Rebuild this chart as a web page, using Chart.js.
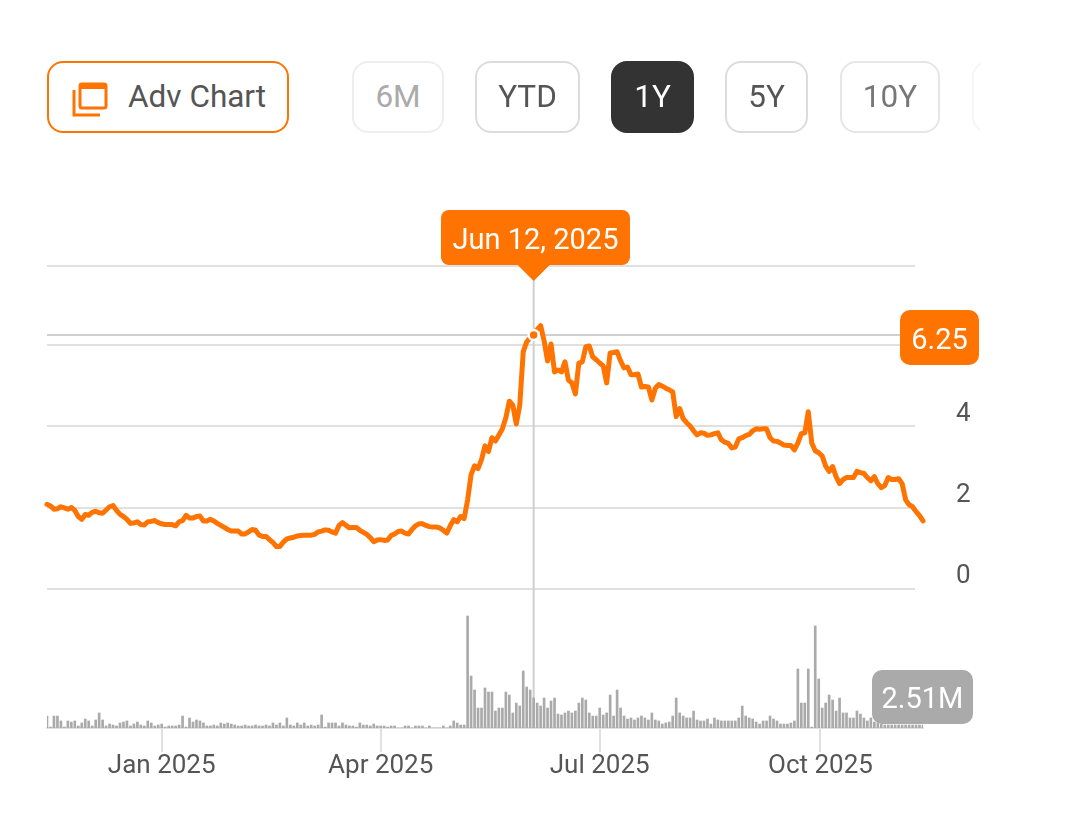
<!DOCTYPE html>
<html>
<head>
<meta charset="utf-8">
<title>Price chart</title>
<script src="https://cdn.jsdelivr.net/npm/chart.js@4/dist/chart.umd.min.js"></script>
<style>
html, body { margin: 0; padding: 0; background: #fff; }
body { width: 1080px; height: 815px; position: relative; overflow: hidden; font-family: Roboto, sans-serif; }
canvas { position: absolute; left: 0; top: 0; }
.btn { position: absolute; top: 61px; height: 72px; box-sizing: border-box; border: 2px solid #dcdcdc; border-radius: 16px;
       font-size: 31.5px; line-height: 68px; text-align: center; color: #555; background: #fff; }
.adv { left: 47px; width: 242px; border-color: #ff7300; text-align: left; padding-left: 79px; }
.adv svg { position: absolute; left: 21px; top: 18px; }
.on { background: #333; border-color: #333; color: #fff; }
.clip { position: absolute; left: 972px; top: 61px; width: 9px; height: 72px; overflow: hidden; opacity: .25; }
.clip div { width: 60px; height: 72px; box-sizing: border-box; border: 2px solid #dcdcdc; border-radius: 16px; }
</style>
</head>
<body>
<canvas id="chart" width="1080" height="815"></canvas>
<div class="btn adv">
  <svg width="38" height="38" viewBox="0 0 38 38" fill="none" stroke="#ff7300">
    <rect x="10" y="3" width="26" height="24" rx="2" stroke-width="3"/>
    <rect x="9" y="2" width="28" height="6" rx="2" fill="#ff7300" stroke="none"/>
    <path d="M4 9 V34 H30" stroke-width="3"/>
  </svg>
  Adv Chart
</div>
<div class="btn" style="left:352px;width:92px;color:#aaa;border-color:#eee">6M</div>
<div class="btn" style="left:475px;width:105px">YTD</div>
<div class="btn on" style="left:611px;width:83px">1Y</div>
<div class="btn" style="left:725px;width:83px">5Y</div>
<div class="btn" style="left:840px;width:100px;color:#777;border-color:#e6e6e6">10Y</div>
<div class="clip"><div></div></div>

<script>
// closing price per trading day
const PRICES = [
    2.08, 2.04, 1.96, 1.97, 2.02, 1.99, 1.96, 2.00, 1.93, 1.78,
    1.71, 1.83, 1.81, 1.88, 1.91, 1.87, 1.86, 1.94, 2.02, 2.05,
    1.93, 1.83, 1.78, 1.71, 1.61, 1.62, 1.65, 1.58, 1.57, 1.65,
    1.66, 1.68, 1.63, 1.60, 1.58, 1.58, 1.58, 1.55, 1.65, 1.68,
    1.81, 1.74, 1.74, 1.78, 1.79, 1.67, 1.67, 1.71, 1.67, 1.61,
    1.56, 1.51, 1.46, 1.42, 1.42, 1.42, 1.35, 1.35, 1.40, 1.46,
    1.44, 1.32, 1.29, 1.29, 1.21, 1.14, 1.04, 1.04, 1.15, 1.23,
    1.25, 1.27, 1.30, 1.31, 1.32, 1.32, 1.32, 1.34, 1.40, 1.42,
    1.45, 1.44, 1.40, 1.37, 1.56, 1.63, 1.56, 1.50, 1.51, 1.51,
    1.44, 1.39, 1.34, 1.26, 1.16, 1.20, 1.21, 1.19, 1.20, 1.31,
    1.35, 1.41, 1.42, 1.37, 1.35, 1.46, 1.55, 1.60, 1.60, 1.56,
    1.53, 1.52, 1.52, 1.50, 1.44, 1.37, 1.55, 1.70, 1.65, 1.78,
    1.73, 2.19, 2.81, 3.03, 2.96, 3.18, 3.52, 3.38, 3.72, 3.64,
    3.79, 3.94, 4.21, 4.62, 4.52, 4.06, 4.52, 5.84, 6.08, 6.18,
    6.25, 6.38, 6.48, 6.11, 5.61, 6.03, 5.34, 5.39, 5.34, 5.59,
    5.14, 5.07, 4.80, 5.56, 5.59, 5.96, 5.98, 5.71, 5.64, 5.56,
    5.49, 5.07, 5.81, 5.82, 5.84, 5.61, 5.44, 5.46, 5.27, 5.27,
    5.29, 4.97, 4.98, 4.97, 4.65, 4.94, 5.03, 4.99, 4.94, 4.90,
    4.85, 4.24, 4.44, 4.19, 4.09, 4.01, 3.89, 3.79, 3.84, 3.83,
    3.78, 3.79, 3.82, 3.84, 3.67, 3.61, 3.58, 3.47, 3.49, 3.69,
    3.72, 3.77, 3.80, 3.89, 3.94, 3.93, 3.94, 3.94, 3.72, 3.64,
    3.63, 3.59, 3.54, 3.53, 3.53, 3.42, 3.59, 3.82, 3.84, 4.36,
    3.59, 3.40, 3.35, 3.27, 3.02, 2.89, 3.01, 2.76, 2.59, 2.69,
    2.74, 2.74, 2.74, 2.89, 2.86, 2.84, 2.74, 2.66, 2.76, 2.59,
    2.49, 2.54, 2.74, 2.69, 2.69, 2.71, 2.59, 2.19, 2.07, 2.02,
    1.90, 1.80, 1.67
];

// volume in millions
const VOLUMES = [
    1.00, 0.08, 1.00, 1.00, 0.59, 0.08, 0.59, 0.50, 0.59, 0.17,
    0.42, 0.75, 0.59, 0.17, 0.67, 1.26, 0.67, 0.17, 0.33, 0.25,
    0.17, 0.42, 0.50, 0.59, 0.17, 0.33, 0.50, 0.25, 0.17, 0.59,
    0.42, 0.17, 0.25, 0.33, 0.08, 0.17, 0.17, 0.17, 0.25, 1.00,
    0.08, 0.84, 0.50, 0.67, 0.59, 0.42, 0.17, 0.17, 0.25, 0.17,
    0.42, 0.33, 0.42, 0.33, 0.25, 0.17, 0.17, 0.25, 0.17, 0.17,
    0.25, 0.17, 0.17, 0.25, 0.17, 0.42, 0.25, 0.42, 0.17, 0.84,
    0.25, 0.17, 0.42, 0.25, 0.42, 0.17, 0.25, 0.17, 0.25, 1.09,
    0.08, 0.42, 0.42, 0.42, 0.17, 0.42, 0.25, 0.17, 0.17, 0.08,
    0.42, 0.25, 0.25, 0.17, 0.33, 0.17, 0.17, 0.17, 0.08, 0.17,
    0.17, 0, 0, 0.17, 0.17, 0, 0.17, 0.17, 0.17, 0,
    0.17, 0, 0, 0, 0.17, 0, 0.17, 0.59, 0.42, 0.25,
    0.25, 9.37, 4.35, 3.18, 1.67, 1.67, 3.35, 3.01, 3.01, 1.42,
    1.67, 1.67, 3.01, 2.76, 1.26, 2.09, 1.84, 4.77, 3.43, 3.18,
    2.51, 2.09, 1.84, 2.51, 1.67, 2.26, 2.51, 1.17, 1.09, 1.26,
    1.42, 1.26, 1.42, 2.09, 2.51, 2.34, 1.26, 1.00, 1.00, 1.67,
    1.09, 1.26, 2.76, 1.00, 3.18, 1.67, 1.00, 0.75, 0.84, 0.67,
    0.84, 1.00, 0.84, 0.67, 1.26, 0.67, 0.59, 0.33, 0.42, 0.50,
    1.00, 2.51, 1.26, 1.00, 0.84, 0.84, 1.42, 0.67, 0.59, 0.59,
    0.75, 0.33, 0.84, 0.67, 0.59, 0.59, 0.59, 0.59, 0.59, 0.84,
    1.84, 1.00, 0.84, 0.75, 0.50, 0.33, 0.59, 0.59, 1.00, 0.75,
    0.59, 0.33, 0.33, 0.33, 0.42, 0.59, 4.94, 2.09, 2.09, 4.94,
    0.08, 8.54, 4.10, 1.67, 2.09, 2.76, 2.34, 1.42, 2.51, 1.26,
    1.26, 0.84, 0.84, 1.42, 1.17, 0.84, 0.59, 0.84, 0.50, 0.42,
    0.33, 0.25, 0.25, 0.25, 0.25, 0.25, 0.25, 0.25, 0.25, 0.25,
    0.25, 0.25, 0.25
];

const X_TICKS = [33, 96, 159, 222.5];
const X_LABELS = ['Jan 2025', 'Apr 2025', 'Jul 2025', 'Oct 2025'];
const Y_TICKS = [0, 2, 4, 6, 7.95];
const Y_LABELS = ['0', '2', '4', '', ''];

const ACTIVE_INDEX = 140;
const ACTIVE_DATE = 'Jun 12, 2025';
const ACTIVE_PRICE = '6.25';
const ACTIVE_VOLUME = '2.51M';

const ORANGE = '#ff7300';
const GREY_BADGE = '#aaaaaa';

function badge(ctx, x, y, w, h, r, color, text) {
    ctx.fillStyle = color;
    ctx.beginPath();
    ctx.roundRect(x, y, w, h, r);
    ctx.fill();
    ctx.fillStyle = '#fff';
    ctx.font = '29px Roboto';
    ctx.textAlign = 'center';
    ctx.textBaseline = 'middle';
    ctx.fillText(text, x + w / 2, y + h / 2 + 4);
}

// grid lines stop short of the plot's right edge, crosshair sits behind the line
const backdrop = {
    id: 'backdrop',
    beforeDatasetsDraw(chart) {
        const { ctx, scales, chartArea } = chart;
        const xp = scales.x.getPixelForValue(ACTIVE_INDEX);
        const yp = scales.y.getPixelForValue(PRICES[ACTIVE_INDEX]);
        ctx.save();
        ctx.lineWidth = 2;
        ctx.strokeStyle = '#e0e0e0';
        Y_TICKS.forEach(v => {
            const y = Math.round(scales.y.getPixelForValue(v));
            ctx.beginPath();
            ctx.moveTo(chartArea.left, y);
            ctx.lineTo(915, y);
            ctx.stroke();
        });
        ctx.strokeStyle = '#cfcfcf';
        ctx.beginPath();
        ctx.moveTo(chartArea.left, yp);
        ctx.lineTo(905, yp);
        ctx.moveTo(xp, chartArea.top);
        ctx.lineTo(xp, chartArea.bottom);
        ctx.stroke();
        ctx.restore();
    },
    afterDraw(chart) {
        const { ctx, scales } = chart;
        const xp = scales.x.getPixelForValue(ACTIVE_INDEX);
        const yp = scales.y.getPixelForValue(PRICES[ACTIVE_INDEX]);
        const vp = scales.y2.getPixelForValue(VOLUMES[ACTIVE_INDEX]);
        ctx.save();
        // date flag with its arrow
        ctx.fillStyle = ORANGE;
        ctx.beginPath();
        ctx.moveTo(xp - 17, 264);
        ctx.lineTo(xp, 281);
        ctx.lineTo(xp + 17, 264);
        ctx.fill();
        badge(ctx, 441, 210, 189, 55, 8, ORANGE, ACTIVE_DATE);
        badge(ctx, 900, yp - 25, 79, 55, 10, ORANGE, ACTIVE_PRICE);
        badge(ctx, 872, vp - 28, 101, 54, 10, GREY_BADGE, ACTIVE_VOLUME);
        ctx.restore();
    }
};

new Chart(document.getElementById('chart'), {
    type: 'bar',
    data: {
        datasets: [
            {
                type: 'line',
                data: PRICES.map((v, i) => ({ x: i, y: v })),
                yAxisID: 'y',
                borderColor: ORANGE,
                borderWidth: 5,
                borderJoinStyle: 'round',
                borderCapStyle: 'round',
                tension: 0,
                order: 1,
                clip: false,
                pointRadius: c => c.dataIndex === ACTIVE_INDEX ? 5 : 0,
                pointBackgroundColor: ORANGE,
                pointBorderColor: '#fff',
                pointBorderWidth: 2.5
            },
            {
                type: 'bar',
                data: VOLUMES.map((v, i) => ({ x: i, y: v })),
                yAxisID: 'y2',
                backgroundColor: '#aaaaaa',
                barThickness: 2,
                order: 2
            }
        ]
    },
    options: {
        responsive: false,
        animation: false,
        layout: { padding: { left: 47, top: 266, right: 0, bottom: 0 } },
        plugins: { legend: { display: false }, tooltip: { enabled: false } },
        scales: {
            x: {
                type: 'linear',
                offset: false,
                min: 0,
                max: 252,
                border: { color: '#e0e0e0', width: 2 },
                grid: { offset: false, drawOnChartArea: false, color: '#e0e0e0', lineWidth: 2, tickLength: 24 },
                afterBuildTicks: s => { s.ticks = X_TICKS.map(v => ({ value: v })); },
                afterFit: s => { s.height = 87; },
                ticks: {
                    autoSkip: false,
                    maxRotation: 0,
                    padding: -1,
                    color: '#555',
                    font: { family: 'Roboto', size: 26 },
                    callback: v => X_LABELS[X_TICKS.indexOf(v)]
                }
            },
            y: {
                position: 'right',
                min: -3.43,
                max: 7.95,
                border: { display: false },
                grid: { display: false, drawTicks: false },
                afterBuildTicks: s => { s.ticks = Y_TICKS.map(v => ({ value: v })); },
                afterFit: s => { s.width = 157; },
                ticks: {
                    autoSkip: false,
                    padding: 33,
                    labelOffset: -12,
                    color: '#555',
                    font: { family: 'Roboto', size: 26 },
                    callback: v => Y_LABELS[Y_TICKS.indexOf(v)]
                }
            },
            y2: {
                display: false,
                min: 0,
                max: 38.66
            }
        }
    },
    plugins: [backdrop]
});
</script>
</body>
</html>
